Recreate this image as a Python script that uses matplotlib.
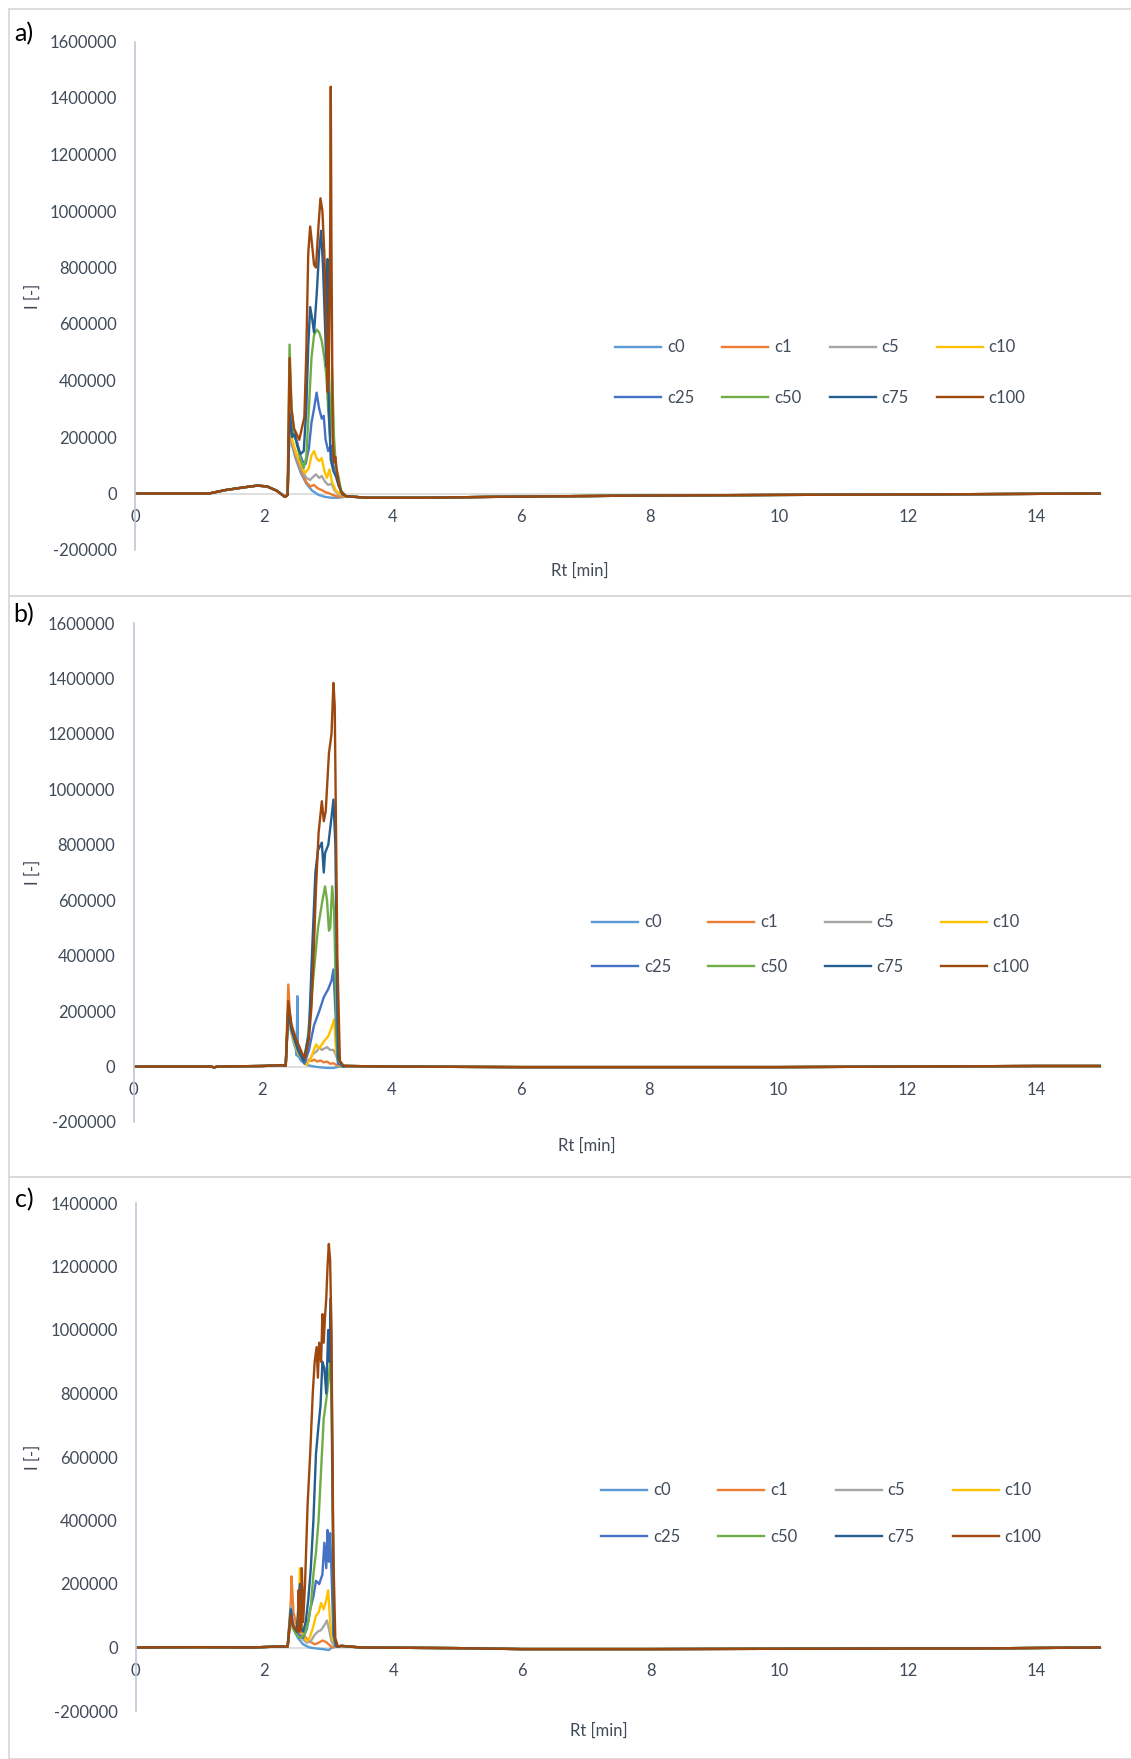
import matplotlib
matplotlib.use("Agg")
import matplotlib.pyplot as plt
from matplotlib.patches import Rectangle

plt.rcParams["font.family"] = ["Lato", "DejaVu Sans"]

W, H = 1131, 1759
TXT = "#404B5A"

names = ["c0", "c1", "c5", "c10", "c25", "c50", "c75", "c100"]
colors = ["#5B9BD5", "#ED7D31", "#A5A5A5", "#FFC000",
          "#4472C4", "#70AD47", "#255E91", "#9E480E"]

x_ticks = [0, 2, 4, 6, 8, 10, 12, 14]

# ---------------- panel a ----------------
a_pre_t = [0, 1.15, 1.4, 1.7, 1.9, 2.05, 2.2, 2.33]
a_pre = [0, 0, 12000, 22000, 28000, 25000, 10000, -12000]
a_post_t = [3.3, 3.6, 4.5, 5.5, 7.5, 10, 12.5, 15]
a_post = [-10000, -15000, -15000, -12000, -8000, -5000, -3000, 0]

a_c0_t = [2.37, 2.40, 2.44, 2.5, 2.58, 2.66, 2.75, 2.85, 2.95, 3.05, 3.15, 3.25]
a_c0 = [-5000, 230000, 170000, 120000, 70000, 35000, 10000, -5000, -12000, -15000, -15000, -12000]
a_c1_t = [2.37, 2.40, 2.44, 2.5, 2.58, 2.66, 2.72, 2.78, 2.84, 2.9, 2.96, 3.02, 3.1, 3.2, 3.25]
a_c1 = [-5000, 240000, 180000, 130000, 80000, 40000, 25000, 30000, 18000, 12000, 5000, 0, -8000, -12000, -12000]
a_c5_t = [2.37, 2.40, 2.44, 2.5, 2.58, 2.66, 2.72, 2.77, 2.81, 2.86, 2.9, 2.95, 3.0, 3.05, 3.1, 3.18, 3.25]
a_c5 = [-5000, 250000, 185000, 140000, 90000, 55000, 48000, 60000, 68000, 55000, 62000, 42000, 30000, 35000, 10000, -5000, -10000]
a_c10_t = [2.37, 2.40, 2.44, 2.5, 2.58, 2.64, 2.7, 2.74, 2.78, 2.82, 2.86, 2.9, 2.94, 2.98, 3.02, 3.06, 3.12, 3.2, 3.25]
a_c10 = [-5000, 260000, 190000, 145000, 100000, 72000, 90000, 135000, 150000, 125000, 115000, 125000, 80000, 55000, 85000, 40000, 10000, -5000, -10000]
a_c25_t = [2.37, 2.40, 2.44, 2.48, 2.52, 2.56, 2.6, 2.65, 2.7, 2.74, 2.78, 2.82, 2.86, 2.9, 2.93, 2.96, 3.0, 3.04, 3.08, 3.12, 3.16, 3.22, 3.28]
a_c25 = [-5000, 300000, 220000, 200000, 180000, 140000, 115000, 105000, 160000, 250000, 300000, 357000, 300000, 265000, 275000, 190000, 150000, 170000, 100000, 80000, 30000, -5000, -10000]
a_c50_t = [2.37, 2.40, 2.43, 2.47, 2.52, 2.57, 2.62, 2.66, 2.7, 2.74, 2.78, 2.82, 2.86, 2.9, 2.94, 2.97, 3.0, 3.03, 3.06, 3.09, 3.12, 3.16, 3.2, 3.28]
a_c50 = [-5000, 527000, 300000, 220000, 170000, 120000, 90000, 130000, 300000, 480000, 560000, 580000, 570000, 540000, 480000, 420000, 300000, 200000, 440000, 200000, 90000, 60000, 10000, -10000]
a_c75_t = [2.37, 2.40, 2.44, 2.48, 2.52, 2.57, 2.62, 2.66, 2.69, 2.72, 2.75, 2.78, 2.82, 2.86, 2.89, 2.92, 2.95, 2.97, 2.99, 3.01, 3.04, 3.08, 3.12, 3.16, 3.22, 3.28]
a_c75 = [-5000, 280000, 200000, 210000, 170000, 140000, 150000, 300000, 520000, 660000, 620000, 570000, 700000, 860000, 930000, 800000, 600000, 450000, 830000, 300000, 120000, 80000, 60000, 30000, 0, -10000]
a_c100_t = [2.37, 2.40, 2.43, 2.47, 2.51, 2.55, 2.59, 2.63, 2.66, 2.69, 2.72, 2.75, 2.78, 2.81, 2.85, 2.88, 2.91, 2.94, 2.97, 2.99, 3.01, 3.03, 3.04, 3.05, 3.07, 3.09, 3.11, 3.13, 3.16, 3.2, 3.28]
a_c100 = [-5000, 480000, 300000, 230000, 210000, 190000, 230000, 270000, 500000, 850000, 945000, 880000, 810000, 800000, 950000, 1045000, 1000000, 850000, 600000, 360000, 420000, 900000, 1440000, 900000, 200000, 110000, 130000, 90000, 40000, 5000, -10000]

# ---------------- panel b ----------------
b_pre_t = [0, 1.2, 1.25, 1.3, 2.0, 2.3, 2.35]
b_pre = [0, 0, -3000, 0, 2000, 5000, 3000]
b_post_t = [3.3, 4, 6, 10, 14, 15]
b_post = [2000, 0, -2000, -2000, 2000, 2000]

b_c0_t = [2.36, 2.40, 2.44, 2.48, 2.52, 2.53, 2.54, 2.55, 2.6, 2.7, 2.8, 2.9, 3.0, 3.1, 3.2]
b_c0 = [3000, 200000, 130000, 90000, 60000, 40000, 254000, 40000, 20000, 5000, 0, -3000, -5000, -5000, 0]
b_c1_t = [2.36, 2.40, 2.43, 2.48, 2.55, 2.62, 2.68, 2.72, 2.76, 2.8, 2.85, 2.9, 2.95, 3.0, 3.05, 3.1, 3.15, 3.2]
b_c1 = [3000, 296000, 170000, 110000, 60000, 30000, 15000, 25000, 20000, 25000, 18000, 22000, 15000, 18000, 10000, 12000, 5000, 0]
b_c5_t = [2.36, 2.40, 2.44, 2.5, 2.58, 2.65, 2.72, 2.78, 2.84, 2.88, 2.92, 2.96, 3.0, 3.05, 3.1, 3.14, 3.2]
b_c5 = [3000, 210000, 140000, 90000, 50000, 15000, 20000, 45000, 55000, 70000, 60000, 65000, 70000, 60000, 60000, 40000, 0]
b_c10_t = [2.36, 2.40, 2.45, 2.55, 2.68, 2.75, 2.83, 2.88, 2.95, 3.02, 3.07, 3.11, 3.14, 3.18, 3.25]
b_c10 = [3000, 190000, 120000, 50000, 5000, 30000, 80000, 65000, 90000, 110000, 140000, 170000, 60000, 5000, 0]
b_c25_t = [2.36, 2.40, 2.45, 2.55, 2.65, 2.72, 2.80, 2.88, 2.95, 3.02, 3.07, 3.10, 3.13, 3.17, 3.25]
b_c25 = [3000, 210000, 140000, 60000, 10000, 60000, 150000, 200000, 250000, 280000, 310000, 350000, 200000, 10000, 0]
b_c50_t = [2.36, 2.40, 2.45, 2.55, 2.64, 2.70, 2.78, 2.86, 2.93, 2.97, 3.0, 3.03, 3.05, 3.08, 3.11, 3.16, 3.25]
b_c50 = [3000, 220000, 140000, 70000, 20000, 100000, 300000, 500000, 600000, 650000, 600000, 490000, 500000, 650000, 560000, 30000, 0]
b_c75_t = [2.36, 2.40, 2.45, 2.55, 2.64, 2.72, 2.77, 2.82, 2.86, 2.92, 2.95, 2.97, 3.02, 3.07, 3.10, 3.13, 3.17, 3.25]
b_c75 = [3000, 200000, 130000, 60000, 20000, 120000, 420000, 700000, 780000, 808000, 700000, 770000, 800000, 900000, 963000, 800000, 30000, 0]
b_c100_t = [2.36, 2.40, 2.45, 2.52, 2.61, 2.66, 2.72, 2.76, 2.80, 2.83, 2.87, 2.92, 2.95, 2.98, 3.03, 3.07, 3.10, 3.12, 3.16, 3.2, 3.25]
b_c100 = [3000, 236000, 150000, 100000, 50000, 30000, 100000, 217000, 450000, 646000, 844000, 957000, 885000, 920000, 1130000, 1200000, 1384000, 1300000, 400000, 20000, 5000]

# ---------------- panel c ----------------
c_pre_t = [0, 1.0, 1.8, 2.2, 2.35]
c_pre = [0, 1000, 0, 3000, 3000]
c_post_t = [3.2, 3.5, 5, 6, 8, 12, 13, 15]
c_post = [5000, 0, -2000, -5000, -5000, -3000, -3000, 0]

c_c0_t = [2.36, 2.41, 2.43, 2.47, 2.52, 2.6, 2.7, 2.8, 2.9, 3.0, 3.05, 3.1, 3.15]
c_c0 = [3000, 110000, 80000, 50000, 30000, 10000, 0, -3000, -5000, -8000, 0, 2000, 3000]
c_c1_t = [2.36, 2.41, 2.42, 2.45, 2.5, 2.56, 2.62, 2.7, 2.78, 2.84, 2.9, 2.95, 3.0, 3.05, 3.12]
c_c1 = [3000, 150000, 224000, 110000, 70000, 50000, 35000, 20000, 10000, 15000, 22000, 18000, 10000, 0, 3000]
c_c5_t = [2.36, 2.41, 2.43, 2.48, 2.54, 2.6, 2.66, 2.72, 2.78, 2.83, 2.88, 2.93, 2.97, 3.0, 3.04, 3.08, 3.13]
c_c5 = [3000, 130000, 90000, 60000, 40000, 25000, 15000, 20000, 40000, 50000, 55000, 70000, 85000, 60000, 20000, 5000, 3000]
c_c10_t = [2.36, 2.41, 2.44, 2.49, 2.53, 2.55, 2.58, 2.62, 2.66, 2.7, 2.75, 2.8, 2.84, 2.88, 2.92, 2.96, 2.99, 3.02, 3.05, 3.1, 3.14]
c_c10 = [3000, 120000, 60000, 50000, 40000, 250000, 60000, 30000, 20000, 30000, 60000, 100000, 110000, 140000, 120000, 150000, 180000, 80000, 30000, 5000, 3000]
c_c25_t = [2.36, 2.41, 2.44, 2.49, 2.54, 2.6, 2.66, 2.71, 2.76, 2.8, 2.85, 2.9, 2.93, 2.96, 2.98, 3.0, 3.02, 3.04, 3.07, 3.1, 3.14]
c_c25 = [3000, 120000, 70000, 50000, 40000, 30000, 60000, 120000, 160000, 210000, 200000, 230000, 330000, 250000, 370000, 270000, 360000, 250000, 40000, 5000, 3000]
c_c50_t = [2.36, 2.41, 2.44, 2.5, 2.56, 2.62, 2.68, 2.72, 2.76, 2.8, 2.84, 2.88, 2.92, 2.96, 3.0, 3.03, 3.05, 3.08, 3.12]
c_c50 = [3000, 110000, 60000, 40000, 30000, 40000, 80000, 130000, 230000, 300000, 400000, 560000, 720000, 780000, 850000, 920000, 600000, 30000, 3000]
c_c75_t = [2.36, 2.41, 2.44, 2.5, 2.55, 2.57, 2.6, 2.64, 2.68, 2.72, 2.76, 2.8, 2.84, 2.87, 2.9, 2.93, 2.96, 2.99, 3.01, 3.03, 3.05, 3.08, 3.12]
c_c75 = [3000, 120000, 70000, 50000, 200000, 60000, 50000, 80000, 150000, 250000, 400000, 610000, 700000, 760000, 900000, 880000, 800000, 1000000, 900000, 1100000, 700000, 40000, 3000]
c_c100_t = [2.36, 2.41, 2.44, 2.48, 2.52, 2.53, 2.55, 2.57, 2.58, 2.6, 2.63, 2.67, 2.71, 2.75, 2.78, 2.81, 2.83, 2.85, 2.88, 2.9, 2.92, 2.94, 2.96, 2.98, 3.0, 3.02, 3.04, 3.07, 3.1, 3.14]
c_c100 = [3000, 100000, 70000, 60000, 50000, 180000, 50000, 60000, 250000, 80000, 200000, 450000, 610000, 800000, 900000, 946000, 850000, 960000, 900000, 1050000, 960000, 1040000, 1100000, 1200000, 1271000, 1220000, 1000000, 300000, 30000, 3000]

panels = [
    {
        "label": "a)", "box": (9, 9, 596), "axes": (135, 41.5, 1101, 550),
        "ylim": (-200000, 1600000),
        "pre": (a_pre_t, a_pre), "post": (a_post_t, a_post),
        "series": [(a_c0_t, a_c0), (a_c1_t, a_c1), (a_c5_t, a_c5), (a_c10_t, a_c10),
                   (a_c25_t, a_c25), (a_c50_t, a_c50), (a_c75_t, a_c75), (a_c100_t, a_c100)],
        "legend": (615, 372.5, 51, 107), "lab_y": 34, "ylab": (33, 296), "xlab": (580, 571),
    },
    {
        "label": "b)", "box": (9, 596, 1177), "axes": (133.5, 623, 1101, 1122),
        "ylim": (-200000, 1600000),
        "pre": (b_pre_t, b_pre), "post": (b_post_t, b_post),
        "series": [(b_c0_t, b_c0), (b_c1_t, b_c1), (b_c5_t, b_c5), (b_c10_t, b_c10),
                   (b_c25_t, b_c25), (b_c50_t, b_c50), (b_c75_t, b_c75), (b_c100_t, b_c100)],
        "legend": (592, 944.5, 45, 116), "lab_y": 615, "ylab": (33, 872), "xlab": (587, 1146),
    },
    {
        "label": "c)", "box": (9, 1177, 1759), "axes": (135.8, 1203, 1101, 1711),
        "ylim": (-200000, 1400000),
        "pre": (c_pre_t, c_pre), "post": (c_post_t, c_post),
        "series": [(c_c0_t, c_c0), (c_c1_t, c_c1), (c_c5_t, c_c5), (c_c10_t, c_c10),
                   (c_c25_t, c_c25), (c_c50_t, c_c50), (c_c75_t, c_c75), (c_c100_t, c_c100)],
        "legend": (601, 1513.5, 47, 117), "lab_y": 1200, "ylab": (33, 1457), "xlab": (599, 1731),
    },
]

fig = plt.figure(figsize=(W / 100, H / 100), dpi=100)
fs = 12
# legend is filled row by row in the original (c0 c1 c5 c10 / c25 c50 c75 c100)
leg_order = [0, 4, 1, 5, 2, 6, 3, 7]

for p in panels:
    bx, by0, by1 = p["box"]
    fig.patches.append(Rectangle((bx / W, 1 - by1 / H), (W - bx + 5) / W, (by1 - by0) / H,
                                 transform=fig.transFigure, fill=False,
                                 edgecolor="#D9D9D9", linewidth=1.3))
    l, t, r, b = p["axes"]
    ax = fig.add_axes([l / W, 1 - b / H, (r - l) / W, (b - t) / H])
    pre_t, pre_v = p["pre"]
    post_t, post_v = p["post"]
    lines = []
    for name, col, (st, sv) in zip(names, colors, p["series"]):
        ln, = ax.plot(pre_t + st + post_t, pre_v + sv + post_v, color=col, lw=1.7, label=name)
        lines.append(ln)

    lo, hi = p["ylim"]
    ax.set_xlim(0, 15)
    ax.set_ylim(lo, hi)
    ax.set_xticks(x_ticks)
    ax.set_xticklabels([str(v) for v in x_ticks])
    yt = list(range(lo, hi + 1, 200000))
    ax.set_yticks(yt)
    ax.set_yticklabels([str(v) for v in yt])
    ax.spines["top"].set_visible(False)
    ax.spines["right"].set_visible(False)
    ax.spines["left"].set_color("#BFC7D3")
    ax.spines["left"].set_linewidth(1.2)
    ax.spines["bottom"].set_position(("data", 0))
    ax.spines["bottom"].set_color("#D9D9D9")
    ax.spines["bottom"].set_linewidth(1.2)
    ax.spines["bottom"].set_zorder(0)
    ax.tick_params(axis="both", length=0, labelsize=fs, labelcolor=TXT)
    ax.tick_params(axis="y", pad=13)
    ax.tick_params(axis="x", pad=11)

    lx, ly, rowgap, stride = p["legend"]
    fpx = fs * 100 / 72
    leg = ax.legend([lines[i] for i in leg_order], [names[i] for i in leg_order],
                    loc="center left", ncol=4, frameon=False,
                    bbox_to_anchor=((lx - l) / (r - l), 1 - (ly - t) / (b - t)),
                    borderaxespad=0, borderpad=0, fontsize=fs,
                    handlelength=46 / fpx, handletextpad=0.35,
                    labelspacing=(rowgap - fpx) / fpx,
                    columnspacing=(stride - 46 - 0.35 * fpx - 27) / fpx)
    for txt in leg.get_texts():
        txt.set_color(TXT)

    fig.text(24 / W, 1 - p["lab_y"] / H, p["label"], fontsize=18, color="black",
             ha="center", va="center")
    yx, yy = p["ylab"]
    fig.text(yx / W, 1 - yy / H, "I [-]", fontsize=fs, color=TXT, rotation=90,
             ha="center", va="center")
    xx, xy = p["xlab"]
    fig.text(xx / W, 1 - xy / H, "Rt [min]", fontsize=fs, color=TXT,
             ha="center", va="center")

fig.savefig("out.png", dpi=100)
